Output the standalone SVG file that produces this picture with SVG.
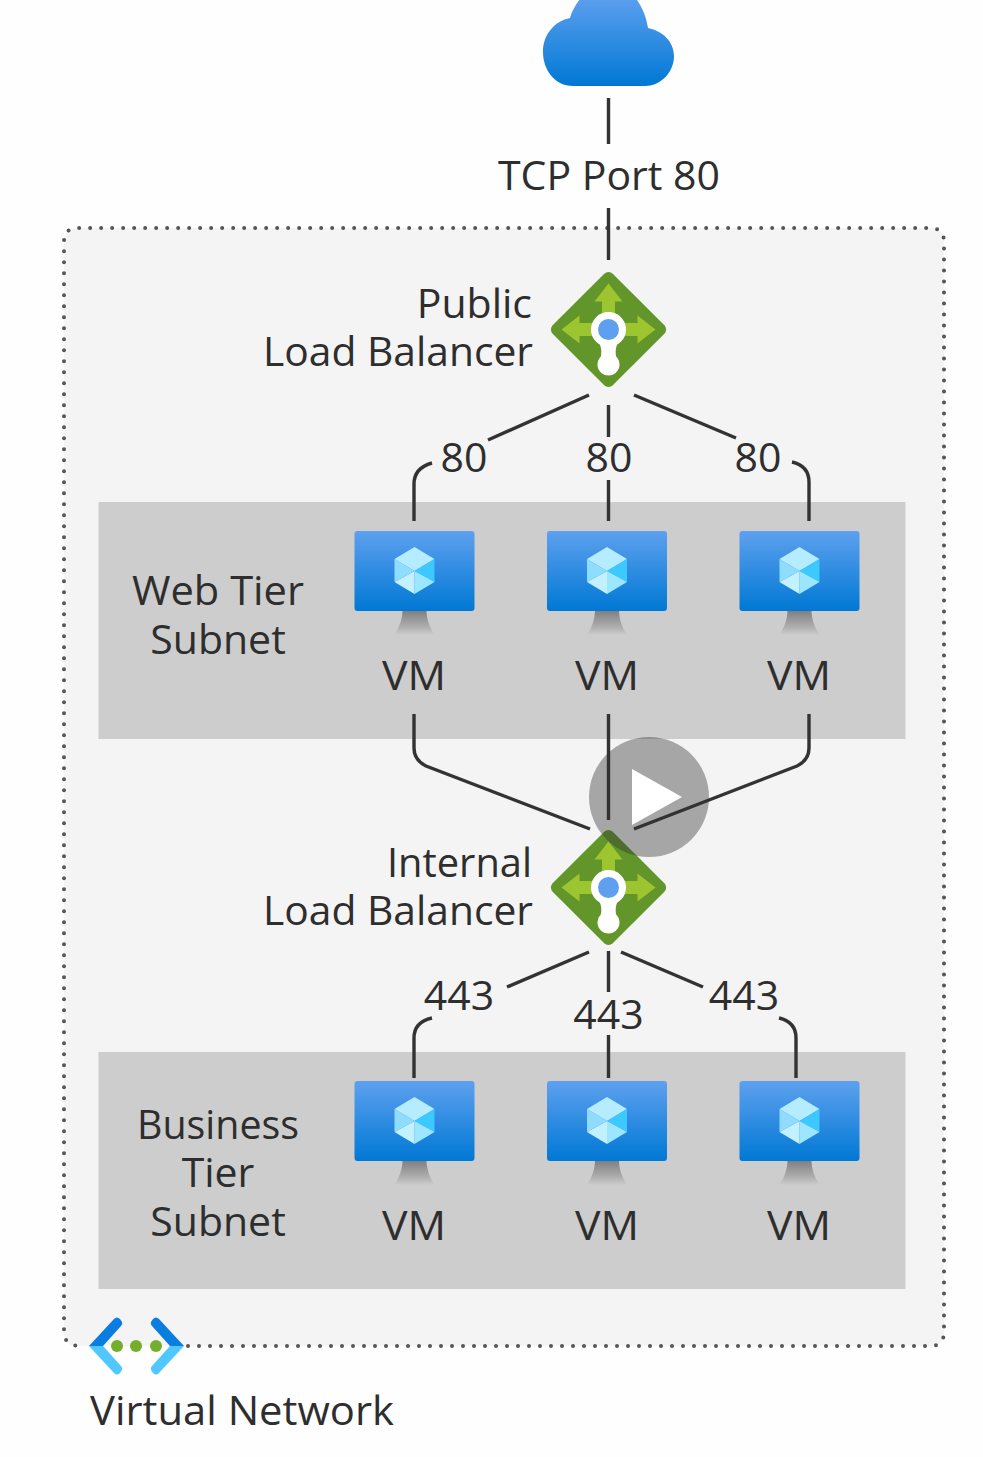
<svg xmlns="http://www.w3.org/2000/svg" width="983" height="1457" viewBox="0 0 983 1457">
<style>
text{font-family:"Open Sans","Noto Sans","Liberation Sans",sans-serif;font-size:41px;fill:#2e2e2e}
.m{text-anchor:middle}.r{text-anchor:end}
.c{fill:none;stroke:#333;stroke-width:3.4}
</style>
<defs>
<linearGradient id="blue" x1="0" y1="0" x2="0" y2="1"><stop offset="0" stop-color="#5ea0ef"/><stop offset="1" stop-color="#0078d4"/></linearGradient>
<linearGradient id="stand" x1="0" y1="0" x2="0" y2="1"><stop offset="0" stop-color="#7d7d7d"/><stop offset=".7" stop-color="#b0b0b0"/><stop offset="1" stop-color="#cdcdcd"/></linearGradient>
<g id="vm">
<path d="M-12 39H12C12 48 15 56 20 64H-20C-15 56-12 48-12 39Z" fill="url(#stand)"/>
<rect x="-60" y="-40" width="120" height="80" rx="3" fill="url(#blue)"/>
<path d="M0-24L20-12L0 0L-20-12Z" fill="#b6ecff"/>
<path d="M20-12V11L0 0Z" fill="#3cc9ff"/>
<path d="M20 11L0 23V0Z" fill="#9ce6ff"/>
<path d="M-20 11L0 23V0Z" fill="#c3f1ff"/>
<path d="M-20-12V11L0 0Z" fill="#8fdcff"/>
</g>
<g id="lb">
<rect x="-42.500" y="-42.500" width="85" height="85" rx="6" transform="rotate(45)" fill="#62962a"/>
<path d="M0-46L14-28H6.500V-8H-6.500V-28H-14ZM-47 0L-29-14V-6.500H-8V6.500H-29V14ZM47 0L29-14V-6.500H8V6.500H29V14Z" fill="#9cc52f"/>
<path d="M-9 14H9C7 19 6.500 23 8 29H-8C-6.500 23-7 19-9 14Z" fill="#fff"/>
<circle r="17.500" fill="#fff"/><circle r="10.500" fill="#5ea0ef"/><circle cy="35" r="11" fill="#fff"/>
</g>
</defs>
<rect width="983" height="1457" fill="#fefefe"/>
<path d="M64 242Q64 228 78 228H930Q944 228 944 242V1332Q944 1346 930 1346H78Q64 1346 64 1332Z" fill="#f4f4f4"/>
<g id="vnet-frame"><path d="M188 1346H930Q944 1346 944 1332V242Q944 228 930 228H78Q64 228 64 242V1332Q64 1346 82 1346" fill="none" stroke="#555" stroke-width="4" stroke-linecap="round" stroke-dasharray="0 11"/></g>
<rect id="web-subnet" x="98.500" y="502" width="807" height="237" fill="#cdcdcd"/>
<rect id="business-subnet" x="98.500" y="1052" width="807" height="237" fill="#cdcdcd"/>
<g id="connectors">
<path class="c" d="M608.500 98V144M608.500 208V260"/>
<path class="c" d="M589 395L488 440M432 463Q414 468 414 484V521M608.500 405V437M608.500 480V521M634 395L736 438M792 462Q809 466 809 482V521"/>
<path class="c" d="M414 714V748Q414 760 426 766L590 829M608.500 714V820M809 714V748Q809 760 797 766L634 829"/>
<path class="c" d="M589 952L507 987M432 1018Q414 1022 414 1038V1078M608.500 951V992M608.500 1035V1078M621 952L703 987M779 1018Q796 1022 796 1038V1078"/>
</g>
<g id="internet"><path d="M573 86C555 86 543 70 543 52C543 34 555 21 570 18C572 10 577 3 582-4H634C642 6 646 16 648 28C663 31 674 42 674 56C674 73 660 86 645 86Z" fill="url(#blue)"/></g>
<g id="tcp-label"><text class="m" x="609" y="190" textLength="222" lengthAdjust="spacingAndGlyphs">TCP Port 80</text></g>
<g id="public-lb"><use href="#lb" x="608.500" y="329.500"/><text class="r" x="532" y="318">Public</text><text class="r" x="533" y="366" textLength="270" lengthAdjust="spacingAndGlyphs">Load Balancer</text></g>
<g id="port-labels-web"><text class="m" x="464" y="472">80</text><text class="m" x="609" y="472">80</text><text class="m" x="758" y="472">80</text></g>
<g id="web-label"><text class="m" x="218" y="605" textLength="172" lengthAdjust="spacingAndGlyphs">Web Tier</text><text class="m" x="218" y="654">Subnet</text></g>
<g id="web-vm-1"><use href="#vm" x="414.500" y="571"/><text class="m" x="414" y="690" textLength="64" lengthAdjust="spacingAndGlyphs">VM</text></g>
<g id="web-vm-2"><use href="#vm" x="607" y="571"/><text class="m" x="607" y="690" textLength="64" lengthAdjust="spacingAndGlyphs">VM</text></g>
<g id="web-vm-3"><use href="#vm" x="799.500" y="571"/><text class="m" x="799" y="690" textLength="64" lengthAdjust="spacingAndGlyphs">VM</text></g>
<g id="internal-lb"><use href="#lb" x="608.500" y="887.500"/><text class="r" x="532" y="877" textLength="145" lengthAdjust="spacingAndGlyphs">Internal</text><text class="r" x="533" y="925" textLength="270" lengthAdjust="spacingAndGlyphs">Load Balancer</text></g>
<g id="port-labels-business"><text class="m" x="459" y="1010">443</text><text class="m" x="608.500" y="1029">443</text><text class="m" x="744" y="1010">443</text></g>
<g id="business-label"><text class="m" x="218" y="1139" textLength="162" lengthAdjust="spacingAndGlyphs">Business</text><text class="m" x="218" y="1187">Tier</text><text class="m" x="218" y="1236">Subnet</text></g>
<g id="business-vm-1"><use href="#vm" x="414.500" y="1121"/><text class="m" x="414" y="1240" textLength="64" lengthAdjust="spacingAndGlyphs">VM</text></g>
<g id="business-vm-2"><use href="#vm" x="607" y="1121"/><text class="m" x="607" y="1240" textLength="64" lengthAdjust="spacingAndGlyphs">VM</text></g>
<g id="business-vm-3"><use href="#vm" x="799.500" y="1121"/><text class="m" x="799" y="1240" textLength="64" lengthAdjust="spacingAndGlyphs">VM</text></g>
<g id="vnet">
<path d="M89 1346L114 1319Q117 1316 120 1319L122 1322Q123 1324 121 1326L103 1346ZM184 1346L159 1319Q156 1316 153 1319L151 1322Q150 1324 152 1326L170 1346Z" fill="#0a7de0"/>
<path d="M89 1346L114 1373Q117 1376 120 1373L122 1370Q123 1368 121 1366L103 1346ZM184 1346L159 1373Q156 1376 153 1373L151 1370Q150 1368 152 1366L170 1346Z" fill="#50c8ff"/>
<circle cx="117" cy="1346" r="6" fill="#74ae2c"/><circle cx="136" cy="1346" r="6" fill="#74ae2c"/><circle cx="156" cy="1346" r="6" fill="#74ae2c"/>
<text x="90" y="1425" textLength="304" lengthAdjust="spacingAndGlyphs">Virtual Network</text>
</g>
<g id="play"><circle cx="649" cy="797" r="60" fill="#323232" fill-opacity=".4"/><path d="M632 769L682 797L632 825Z" fill="#fff"/></g>
</svg>
